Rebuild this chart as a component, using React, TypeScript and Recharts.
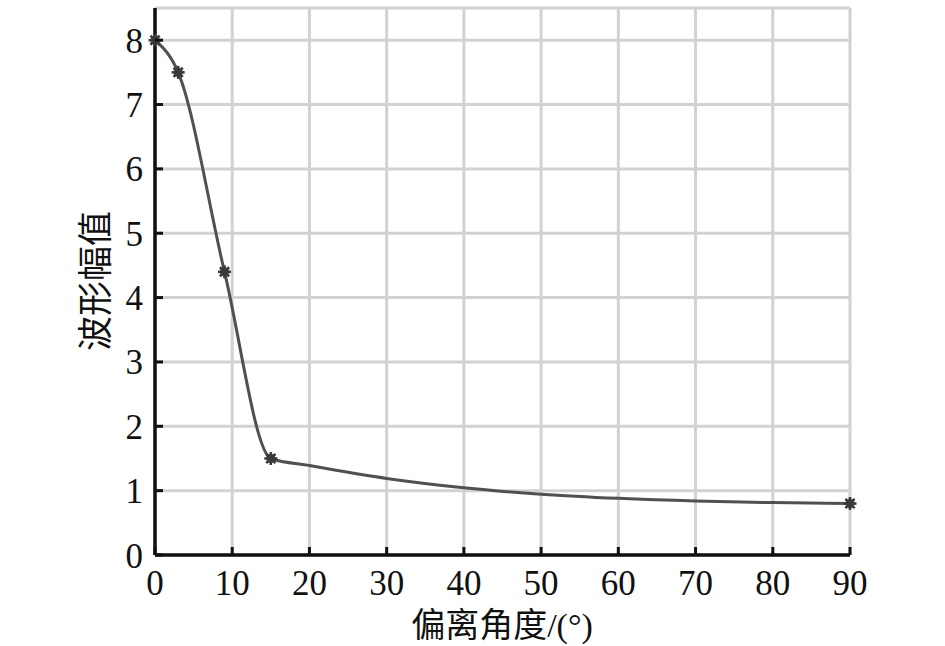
import React from "react";
import { ComposedChart, Line, Scatter, XAxis, YAxis, CartesianGrid, Label } from "recharts";

// fitted curve (deviation angle in deg -> waveform amplitude)
const curveAngles = [0, 3, 9, 15, 20, 30, 40, 50, 60, 70, 80, 90];
const curveAmps = [8, 7.5, 4.4, 1.5, 1.39, 1.19, 1.045, 0.945, 0.88, 0.838, 0.815, 0.8];

// measured points shown with markers
const markAngles = [0, 3, 9, 15, 90];
const markAmps = [8, 7.5, 4.4, 1.5, 0.8];

const xTicks = [0, 10, 20, 30, 40, 50, 60, 70, 80, 90];
const yTicks = [0, 1, 2, 3, 4, 5, 6, 7, 8];

const curveData = curveAngles.map((a, i) => ({ angle: a, amp: curveAmps[i] }));
const markData = markAngles.map((a, i) => ({ angle: a, amp: markAmps[i] }));

const SERIF = "'Liberation Serif', 'Times New Roman', 'DejaVu Serif', serif";
const LABEL_FONT = "'Liberation Serif', 'Noto Sans CJK SC', serif";

function XTick(props: any) {
  const { x, y, payload } = props;
  return (
    <g>
      <line x1={x} x2={x} y1={y} y2={y - 8} stroke="#111" strokeWidth={3} />
      <text x={x} y={y + 40} textAnchor="middle" style={{ fontFamily: SERIF, fontSize: 35 }} fill="#111">
        {payload.value}
      </text>
    </g>
  );
}

function YTick(props: any) {
  const { x, y, payload } = props;
  return (
    <g>
      <line x1={x} x2={x + 8} y1={y} y2={y} stroke="#111" strokeWidth={3} />
      <text x={x - 12} y={y + 12.5} textAnchor="end" style={{ fontFamily: SERIF, fontSize: 35 }} fill="#111">
        {payload.value}
      </text>
    </g>
  );
}

function StarMark(props: any) {
  const { cx, cy } = props;
  if (cx == null || cy == null) return null;
  const r = 6.5;
  const d = r * 0.707;
  return (
    <g stroke="#3a3a3a" strokeWidth={2.6}>
      <line x1={cx - r} x2={cx + r} y1={cy} y2={cy} />
      <line x1={cx} x2={cx} y1={cy - r} y2={cy + r} />
      <line x1={cx - d} x2={cx + d} y1={cy - d} y2={cy + d} />
      <line x1={cx - d} x2={cx + d} y1={cy + d} y2={cy - d} />
      <circle cx={cx} cy={cy} r={4.5} fill="#3a3a3a" stroke="none" />
    </g>
  );
}

export default function App() {
  return (
    <div style={{ position: "absolute", left: 0, top: 0, background: "#fff" }}>
      <ComposedChart
        width={945}
        height={646}
        data={curveData}
        margin={{ top: 8, right: 95, bottom: 0, left: 0 }}
      >
        <CartesianGrid stroke="#d2d2d2" strokeWidth={3} />
        <XAxis
          dataKey="angle"
          type="number"
          domain={[0, 90]}
          ticks={xTicks}
          height={91}
          tickSize={0}
          tickMargin={0}
          tick={<XTick />}
          tickLine={false}
          axisLine={{ stroke: "#111", strokeWidth: 3.5 }}
        >
          <Label
            content={() => (
              <text
                x={502}
                y={637}
                textAnchor="middle"
                style={{ fontFamily: LABEL_FONT, fontSize: 34 }}
                fill="#111"
              >
                偏离角度/(°)
              </text>
            )}
          />
        </XAxis>
        <YAxis
          type="number"
          domain={[0, 8.5]}
          ticks={yTicks}
          width={155}
          tickSize={0}
          tickMargin={0}
          tick={<YTick />}
          tickLine={false}
          axisLine={{ stroke: "#111", strokeWidth: 3.5 }}
        >
          <Label
            content={() => (
              <text
                transform="translate(96,281) rotate(-90)"
                textAnchor="middle"
                dominantBaseline="central"
                style={{ fontFamily: LABEL_FONT, fontSize: 35 }}
                fill="#111"
              >
                波形幅值
              </text>
            )}
          />
        </YAxis>
        <Line
          type="monotone"
          dataKey="amp"
          stroke="#505050"
          strokeWidth={3}
          dot={false}
          activeDot={false}
          isAnimationActive={false}
        />
        <Scatter
          data={markData}
          dataKey="amp"
          shape={<StarMark />}
          isAnimationActive={false}
        />
      </ComposedChart>
    </div>
  );
}
